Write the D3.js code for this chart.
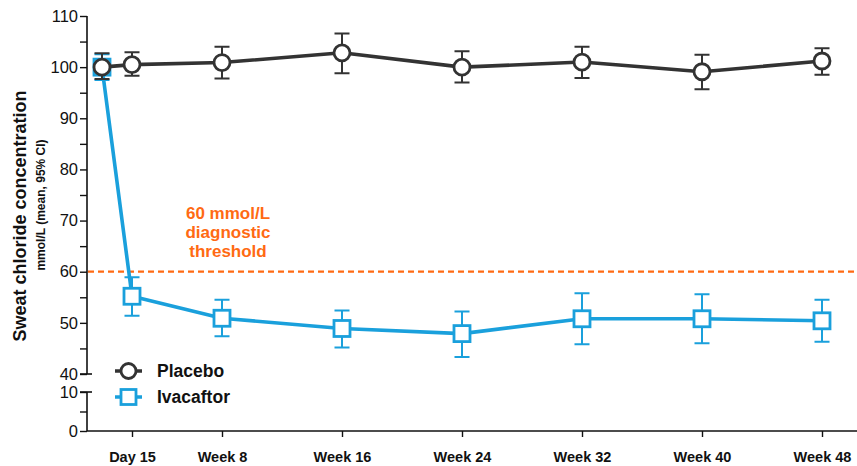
<!DOCTYPE html>
<html>
<head>
<meta charset="utf-8">
<script src="https://cdn.jsdelivr.net/npm/d3@7"></script>
<style>
  html, body { margin: 0; padding: 0; background: #fff; }
  svg { display: block; font-family: "Liberation Sans", Arial, Helvetica, sans-serif; }
</style>
</head>
<body>
<svg id="chart" width="857" height="466"></svg>
<script>
// Visit timepoints (in weeks) and their labels
const weeks = [0, 2, 8, 16, 24, 32, 40, 48];
const tickWeeks = [2, 8, 16, 24, 32, 40, 48];
const tickLabels = ["Day 15", "Week 8", "Week 16", "Week 24", "Week 32", "Week 40", "Week 48"];

// Placebo: mean and 95% CI
const placeboMean = [100.0, 100.5, 100.9, 102.8, 100.0, 101.0, 99.1, 101.2];
const placeboLow  = [97.7, 98.3, 97.8, 98.8, 97.0, 97.9, 95.7, 98.5];
const placeboHigh = [102.7, 102.9, 104.0, 106.6, 103.1, 104.0, 102.4, 103.7];

// Ivacaftor: mean and 95% CI
const ivaMean = [100.0, 55.2, 50.9, 48.9, 47.9, 50.8, 50.8, 50.4];
const ivaLow  = [97.5, 51.4, 47.4, 45.2, 43.3, 45.8, 46.0, 46.3];
const ivaHigh = [102.5, 58.9, 54.5, 52.4, 52.2, 55.8, 55.6, 54.5];

// Upper and lower y-axis tick values (broken axis)
const upperTicks = [40, 50, 60, 70, 80, 90, 100, 110];
const lowerTicks = [0, 10];
const threshold = 60;

const colPlacebo = "#333333";
const colIva = "#1aa0dc";
const colThreshold = "#ff6a13";

const svg = d3.select("#chart");

const x = d3.scaleLinear().domain([0, 48]).range([102, 822]);
const yUp = d3.scaleLinear().domain([40, 110]).range([374, 16]);
const yLow = d3.scaleLinear().domain([0, 10]).range([431, 392]);
const axisX = 87;

// Upper y-axis with minor ticks
const gUp = svg.append("g").attr("transform", `translate(${axisX},0)`);
gUp.call(d3.axisLeft(yUp).tickValues(d3.range(40, 111, 5)).tickSize(7).tickFormat(d => upperTicks.includes(d) ? d : ""));
gUp.select(".domain").attr("d", `M0,${yUp(110)}V${yUp(40)}`);

// Lower y-axis segment
const gLow = svg.append("g").attr("transform", `translate(${axisX},0)`);
gLow.call(d3.axisLeft(yLow).tickValues([0, 5, 10]).tickSize(7).tickFormat(d => lowerTicks.includes(d) ? d : ""));
gLow.select(".domain").attr("d", `M0,${yLow(10)}V${yLow(0)}`);

[gUp, gLow].forEach(g => {
  g.selectAll(".domain").attr("stroke", "#111").attr("stroke-width", 1.6);
  g.selectAll(".tick line").attr("stroke", "#111").attr("stroke-width", 1.4);
  g.selectAll(".tick text").attr("font-size", 16.5).attr("fill", "#111").attr("x", -9);
});
// break markers extend slightly right of the axis
[yUp(40), yLow(10)].forEach(yy => {
  svg.append("line").attr("x1", axisX - 7).attr("x2", axisX + 5).attr("y1", yy).attr("y2", yy)
    .attr("stroke", "#111").attr("stroke-width", 1.6);
});

// x-axis
const gx = svg.append("g").attr("transform", `translate(0,${yLow(0)})`);
gx.call(d3.axisBottom(x).tickValues(tickWeeks).tickSize(6).tickFormat((d, i) => tickLabels[i]));
gx.select(".domain").attr("d", `M${axisX},0H857`).attr("stroke", "#111").attr("stroke-width", 1.6);
gx.selectAll(".tick line").attr("stroke", "#111").attr("stroke-width", 1.4);
gx.selectAll(".tick text").attr("font-size", 14.5).attr("font-weight", "bold").attr("fill", "#111").attr("dy", "1.5em");

// y-axis titles
svg.append("text")
  .attr("transform", "translate(26,216) rotate(-90)")
  .attr("text-anchor", "middle")
  .attr("font-size", 18).attr("font-weight", "bold").attr("fill", "#111")
  .text("Sweat chloride concentration");
svg.append("text")
  .attr("transform", "translate(45,205) rotate(-90)")
  .attr("text-anchor", "middle")
  .attr("font-size", 12).attr("font-weight", "bold").attr("fill", "#111")
  .text("mmol/L (mean, 95% CI)");

// threshold line
svg.append("line")
  .attr("x1", axisX + 1).attr("x2", 855)
  .attr("y1", yUp(threshold)).attr("y2", yUp(threshold))
  .attr("stroke", colThreshold).attr("stroke-width", 2.2).attr("stroke-dasharray", "6,4");
const thr = svg.append("text").attr("text-anchor", "middle").attr("font-size", 17)
  .attr("font-weight", "bold").attr("fill", colThreshold);
["60 mmol/L", "diagnostic", "threshold"].forEach((t, i) => {
  thr.append("tspan").attr("x", 228).attr("y", 219 + i * 19).text(t);
});

// series drawing
function drawSeries(mean, low, high, color, shape) {
  const g = svg.append("g");
  const line = d3.line().x((d, i) => x(weeks[i])).y(d => yUp(d));
  g.append("path").datum(mean).attr("d", line).attr("fill", "none")
    .attr("stroke", color).attr("stroke-width", 3.6).attr("stroke-linejoin", "round");
  const cap = 7.5;
  weeks.forEach((w, i) => {
    const cx = x(w);
    g.append("path")
      .attr("d", `M${cx},${yUp(high[i])}V${yUp(low[i])}M${cx - cap},${yUp(high[i])}H${cx + cap}M${cx - cap},${yUp(low[i])}H${cx + cap}`)
      .attr("stroke", color).attr("stroke-width", 2).attr("fill", "none");
  });
  weeks.forEach((w, i) => {
    const cx = x(w), cy = yUp(mean[i]);
    if (shape === "circle") {
      g.append("circle").attr("cx", cx).attr("cy", cy).attr("r", 8)
        .attr("fill", "#fff").attr("stroke", color).attr("stroke-width", 2.8);
    } else {
      g.append("rect").attr("x", cx - 8).attr("y", cy - 8).attr("width", 16).attr("height", 16)
        .attr("fill", "#fff").attr("stroke", color).attr("stroke-width", 2.8);
    }
  });
}
drawSeries(ivaMean, ivaLow, ivaHigh, colIva, "square");
drawSeries(placeboMean, placeboLow, placeboHigh, colPlacebo, "circle");

// legend
const legend = [
  { name: "Placebo", color: colPlacebo, shape: "circle", y: 371 },
  { name: "Ivacaftor", color: colIva, shape: "square", y: 397 }
];
legend.forEach(l => {
  const g = svg.append("g");
  g.append("line").attr("x1", 115).attr("x2", 142).attr("y1", l.y).attr("y2", l.y)
    .attr("stroke", l.color).attr("stroke-width", 3.5);
  if (l.shape === "circle") {
    g.append("circle").attr("cx", 128.5).attr("cy", l.y).attr("r", 7.5)
      .attr("fill", "#fff").attr("stroke", l.color).attr("stroke-width", 2.8);
  } else {
    g.append("rect").attr("x", 121).attr("y", l.y - 7.5).attr("width", 15).attr("height", 15)
      .attr("fill", "#fff").attr("stroke", l.color).attr("stroke-width", 2.8);
  }
  g.append("text").attr("x", 157).attr("y", l.y + 6).attr("font-size", 17.5)
    .attr("font-weight", "bold").attr("fill", "#111").text(l.name);
});
</script>
</body>
</html>
